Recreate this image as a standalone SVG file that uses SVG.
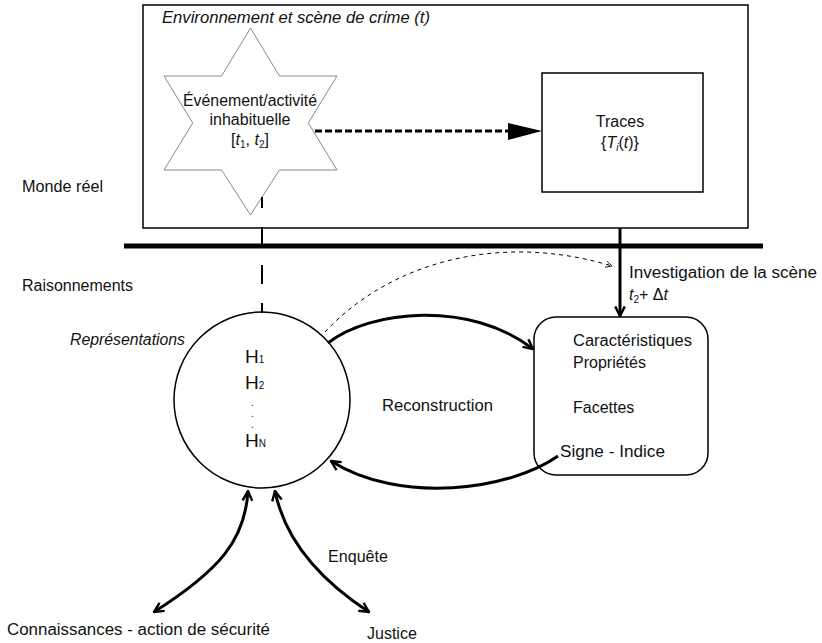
<svg xmlns="http://www.w3.org/2000/svg" width="822" height="643" viewBox="0 0 822 643">
<style>
text{font-family:"Liberation Sans",Arial,sans-serif;font-size:16px;fill:#111}
.it{font-style:italic}
.sub{font-size:10px}
.h{font-size:19px}
.line{fill:none;stroke:#000}
</style>
<defs>
<marker id="openArr" viewBox="0 0 10 10" refX="9" refY="5" markerWidth="4" markerHeight="4" orient="auto-start-reverse" markerUnits="strokeWidth">
<path d="M1,1 L9,5 L1,9" fill="none" stroke="#000" stroke-width="2"/>
</marker>
<marker id="thinArr" viewBox="0 0 10 10" refX="9" refY="5" markerWidth="8" markerHeight="8" orient="auto" markerUnits="strokeWidth">
<path d="M1,1 L9,5 L1,9" fill="none" stroke="#000" stroke-width="1"/>
</marker>
</defs>
<g id="scene">
<rect x="143" y="5" width="605" height="223" fill="#fff" stroke="#000" stroke-width="1.5"/>
<text x="162" y="23" class="it" textLength="268" lengthAdjust="spacingAndGlyphs">Environnement et scène de crime (t)</text>
</g>
<g id="labels">
<text x="22" y="192" textLength="81" lengthAdjust="spacingAndGlyphs">Monde réel</text>
<text x="22" y="291" textLength="111" lengthAdjust="spacingAndGlyphs">Raisonnements</text>
<text x="70" y="345" class="it" textLength="115" lengthAdjust="spacingAndGlyphs">Représentations</text>
<text x="382" y="411" textLength="111" lengthAdjust="spacingAndGlyphs">Reconstruction</text>
<text x="328" y="562" textLength="60" lengthAdjust="spacingAndGlyphs">Enquête</text>
</g>
<g id="event">
<polygon points="250.5,28 279.4,76 337,76 308.3,123 337,170 279.4,170 250.5,215 221.6,170 164,170 192.7,123 164,76 221.6,76" fill="#fff" stroke="#888" stroke-width="1"/>
<text x="183" y="106" textLength="134" lengthAdjust="spacingAndGlyphs">Événement/activité</text>
<text x="250" y="125" text-anchor="middle">inhabituelle</text>
<text x="250" y="145" text-anchor="middle">[<tspan class="it">t</tspan><tspan class="sub" dy="3">1</tspan><tspan dy="-3">, </tspan><tspan class="it">t</tspan><tspan class="sub" dy="3">2</tspan><tspan dy="-3">]</tspan></text>
</g>
<g id="traces">
<rect x="542" y="73" width="161" height="119" fill="#fff" stroke="#000" stroke-width="1.5"/>
<text x="620" y="127" text-anchor="middle">Traces</text>
<text x="620" y="148" text-anchor="middle">{<tspan class="it">T</tspan><tspan class="sub it" dy="3">i</tspan><tspan dy="-3">(</tspan><tspan class="it">t</tspan>)}</text>
</g>
<g id="hypotheses">
<circle cx="262" cy="400" r="88" fill="#fff" stroke="#000" stroke-width="1.5"/>
<text x="245" y="363" class="h">H<tspan class="sub">1</tspan></text>
<text x="245" y="389" class="h">H<tspan class="sub">2</tspan></text>
<text x="251" y="406" class="sub">.</text>
<text x="251" y="417" class="sub">.</text>
<text x="251" y="428" class="sub">.</text>
<text x="245" y="447" class="h">H<tspan class="sub">N</tspan></text>
</g>
<g id="characteristics">
<rect x="534" y="317" width="174" height="158" rx="22" ry="22" fill="#fff" stroke="#000" stroke-width="1.5"/>
<text x="573" y="346" textLength="119" lengthAdjust="spacingAndGlyphs">Caractéristiques</text>
<text x="573" y="368">Propriétés</text>
<text x="573" y="413">Facettes</text>
<text x="560" y="457" textLength="105" lengthAdjust="spacingAndGlyphs">Signe - Indice</text>
</g>
<g id="investigation">
<text x="629" y="278" textLength="188" lengthAdjust="spacingAndGlyphs">Investigation de la scène</text>
<text x="629" y="300"><tspan class="it">t</tspan><tspan class="sub" dy="3">2</tspan><tspan dy="-3">+ Δ</tspan><tspan class="it">t</tspan></text>
</g>
<g id="bottom-labels">
<text x="7" y="635" textLength="263" lengthAdjust="spacingAndGlyphs">Connaissances - action de sécurité</text>
<text x="367" y="639">Justice</text>
</g>
<g id="connectors">
<line x1="124" y1="246" x2="763" y2="246" stroke="#000" stroke-width="5"/>
<path class="line" d="M262 197 V208 M262 227 V246 M262 265 V284 M262 303 V313" stroke-width="2"/>
<line x1="315" y1="131" x2="510" y2="131" stroke="#000" stroke-width="3" stroke-dasharray="7 3"/>
<polygon points="508,123 542,131 508,140" fill="#000"/>
<line x1="620" y1="228" x2="620" y2="316" stroke="#000" stroke-width="3" marker-end="url(#openArr)"/>
<path class="line" d="M325 332 C390 262 500 232 612 266" stroke-width="1" stroke-dasharray="4 4" marker-end="url(#thinArr)"/>
<path class="line" d="M328 343 C370 310 470 300 533 349" stroke-width="3" marker-end="url(#openArr)"/>
<path class="line" d="M558 456 C510 490 400 505 331 461" stroke-width="3" marker-end="url(#openArr)"/>
<path class="line" d="M248 491 C245 540 220 570 154 612" stroke-width="3" marker-start="url(#openArr)" marker-end="url(#openArr)"/>
<path class="line" d="M275 491 C285 540 320 580 369 612" stroke-width="3" marker-start="url(#openArr)" marker-end="url(#openArr)"/>
</g>
</svg>
